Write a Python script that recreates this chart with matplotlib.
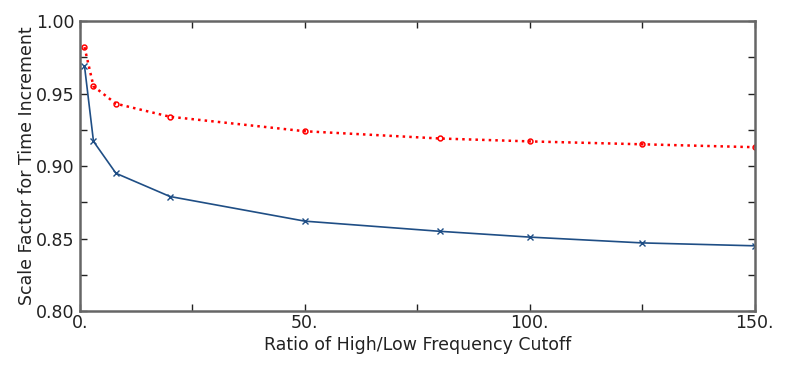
import numpy as np
import matplotlib.pyplot as plt
from matplotlib.ticker import MultipleLocator

# Data
ratio = [1, 3, 8, 20, 50, 80, 100, 125, 150]
upper = [0.982, 0.955, 0.943, 0.934, 0.924, 0.919, 0.917, 0.915, 0.913]
lower = [0.969, 0.917, 0.895, 0.879, 0.862, 0.855, 0.851, 0.847, 0.845]

xticks = [0, 50, 100, 150]
xlabels = ['0.', '50.', '100.', '150.']
yticks = [0.80, 0.85, 0.90, 0.95, 1.00]
ylabels = ['0.80', '0.85', '0.90', '0.95', '1.00']

plt.rcParams['font.family'] = 'DejaVu Sans'

fig = plt.figure(figsize=(7.92, 3.69), dpi=100)
ax = fig.add_axes([0.101, 0.157, 0.852, 0.786])

ax.plot(ratio, upper, color='red', ls=':', lw=1.8, marker='o', ms=3.5,
        mfc='none', mec='red', mew=1.1)
ax.plot(ratio, lower, color='#1f4e85', ls='-', lw=1.2, marker='x', ms=4.5,
        mew=1)

ax.set_xlim(0, 150)
ax.set_ylim(0.80, 1.00)
ax.set_xticks(xticks)
ax.set_xticklabels(xlabels)
ax.set_yticks(yticks)
ax.set_yticklabels(ylabels)
ax.xaxis.set_minor_locator(MultipleLocator(25))
ax.yaxis.set_minor_locator(MultipleLocator(0.025))

ax.tick_params(which='both', direction='in', top=True, right=True,
               length=5, width=1, color='#222222', labelsize=12.5,
               labelcolor='#222222')
ax.tick_params(axis='y', pad=4)
ax.tick_params(axis='x', pad=2)

for s in ax.spines.values():
    s.set_color('#666666')
    s.set_linewidth(1.8)

ax.set_xlabel('Ratio of High/Low Frequency Cutoff', fontsize=12.5,
              color='#222222', labelpad=3)
ax.set_ylabel('Scale Factor for Time Increment', fontsize=12.5,
              color='#222222', labelpad=0)

fig.savefig('out.png', dpi=100)
